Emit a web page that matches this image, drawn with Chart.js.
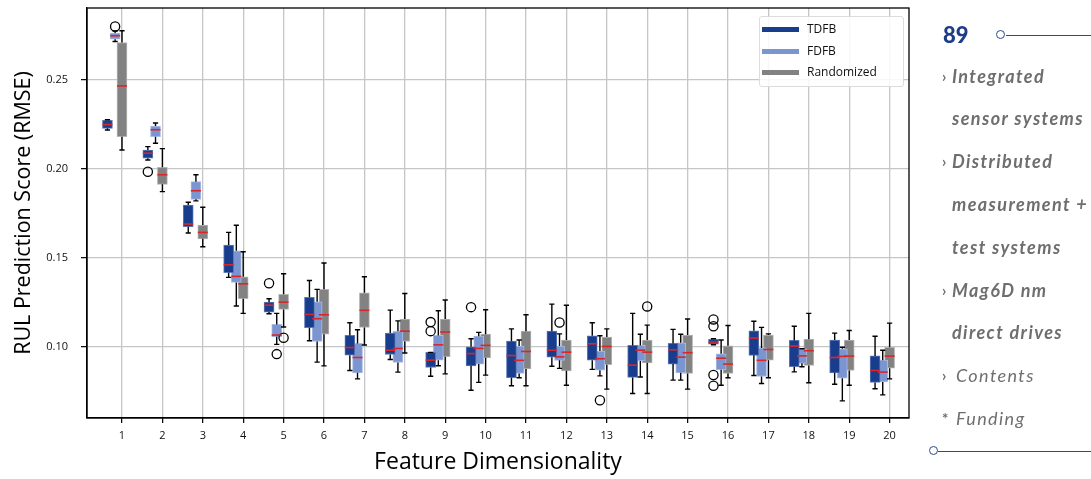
<!DOCTYPE html>
<html>
<head>
<meta charset="utf-8">
<script src="https://cdn.jsdelivr.net/npm/chart.js@4.4.1/dist/chart.umd.min.js"></script>
<style>
  html, body { margin: 0; padding: 0; background: #fff; }
  #page { position: relative; width: 1091px; height: 479px; overflow: hidden; }
  #plot { position: absolute; left: 0; top: 0; }
  #legend { position: absolute; left: 759px; top: 16px; width: 143px; height: 69px;
    border: 1px solid #dcdcdc; border-radius: 3px; background: rgba(255,255,255,0.85);
    font-family: 'Open Sans', sans-serif; font-size: 12px; color: #111; }
  #legend .row { position: absolute; left: 0; height: 20px; line-height: 20px; }
  #legend .sw { position: absolute; left: 2px; top: 8px; width: 37px; height: 5px; }
  #legend .lb { position: absolute; left: 47px; top: 0; white-space: nowrap; }
  #side { position: absolute; left: 920px; top: 0; width: 171px; height: 479px;
    font-family: Lato, sans-serif; color: #6e6e6e; }
  #pnum { position: absolute; left: 23px; top: 20px; font-size: 22px; font-weight: 900; color: #1d3c8a; line-height: 30px; }
  .hline { position: absolute; height: 0; border-top: 1.5px solid #2b4a92; }
  .dot { position: absolute; width: 7px; height: 7px; border: 1.5px solid #2b4a92; border-radius: 50%; background: #fff; }
  #menu { position: absolute; left: 0; top: 54.6px; width: 171px; }
  #menu div { position: relative; height: 42.8px; line-height: 42.8px; font-size: 18px; font-style: italic; white-space: nowrap; letter-spacing: 1.4px; }
  #menu .b { font-weight: 700; padding-left: 32px; }
  #menu .n { font-weight: 400; padding-left: 36px; }
  #menu .mk { position: absolute; left: 22px; top: 0; font-style: normal; font-weight: 700; font-size: 15px; letter-spacing: 0; }
</style>
</head>
<body>
<div id="page">
  <canvas id="plot" width="920" height="479"></canvas>
  <div id="legend"></div>
  <div id="side">
    <div id="pnum">89</div>
    <div class="hline" style="left:86px; top:34.5px; width:90px;"></div>
    <div class="dot" style="left:76px; top:30px;"></div>
    <div id="menu">
      <div class="b"><span class="mk">›</span>Integrated</div>
      <div class="b">sensor systems</div>
      <div class="b"><span class="mk">›</span>Distributed</div>
      <div class="b">measurement +</div>
      <div class="b">test systems</div>
      <div class="b"><span class="mk">›</span>Mag6D nm</div>
      <div class="b">direct drives</div>
      <div class="n"><span class="mk">›</span>Contents</div>
      <div class="n"><span class="mk">*</span>Funding</div>
    </div>
    <div class="hline" style="left:18px; top:450.5px; width:160px;"></div>
    <div class="dot" style="left:9px; top:446px;"></div>
  </div>
</div>
<script>
// feature dimensionality 1..20
var dims = [1, 2, 3, 4, 5, 6, 7, 8, 9, 10, 11, 12, 13, 14, 15, 16, 17, 18, 19, 20];
var yTicks = [0.10, 0.15, 0.20, 0.25];
var seriesNames = ['TDFB', 'FDFB', 'Randomized'];

// [whisker low, q1, median, q3, whisker high] for each dimensionality
var tdfbStats = [
  [0.2218, 0.2228, 0.2249, 0.2273, 0.2276],
  [0.2050, 0.2060, 0.2088, 0.2106, 0.2125],
  [0.1640, 0.1675, 0.1690, 0.1797, 0.1812],
  [0.1390, 0.1416, 0.1461, 0.1572, 0.1643],
  [0.1186, 0.1195, 0.1234, 0.1251, 0.1270],
  [0.1034, 0.1107, 0.1182, 0.1278, 0.1373],
  [0.0867, 0.0953, 0.0996, 0.1064, 0.1135],
  [0.0929, 0.0957, 0.0981, 0.1077, 0.1206],
  [0.0835, 0.0884, 0.0925, 0.0969, 0.0969],
  [0.0756, 0.0893, 0.0962, 0.1000, 0.1045],
  [0.0781, 0.0826, 0.0951, 0.1032, 0.1101],
  [0.0891, 0.0942, 0.0981, 0.1088, 0.1240],
  [0.0873, 0.0925, 0.1017, 0.1062, 0.1135],
  [0.0738, 0.0828, 0.0897, 0.1008, 0.1188],
  [0.0813, 0.0903, 0.0983, 0.1019, 0.1098],
  [0.1012, 0.1015, 0.1027, 0.1042, 0.1045],
  [0.0839, 0.0952, 0.1049, 0.1090, 0.1144],
  [0.0859, 0.0888, 0.1004, 0.1036, 0.1116],
  [0.0790, 0.0854, 0.0940, 0.1038, 0.1077],
  [0.0764, 0.0800, 0.0867, 0.0949, 0.1059]
];
var fdfbStats = [
  [0.2716, 0.2729, 0.2748, 0.2763, 0.2775],
  [0.2144, 0.2181, 0.2220, 0.2241, 0.2258],
  [0.1820, 0.1829, 0.1877, 0.1928, 0.1967],
  [0.1229, 0.1362, 0.1396, 0.1540, 0.1683],
  [0.1014, 0.1056, 0.1066, 0.1126, 0.1188],
  [0.0914, 0.1030, 0.1158, 0.1253, 0.1323],
  [0.0820, 0.0854, 0.0940, 0.1019, 0.1096],
  [0.0858, 0.0912, 0.0991, 0.1087, 0.1146],
  [0.0894, 0.0925, 0.1011, 0.1064, 0.1203],
  [0.0800, 0.0903, 0.0991, 0.1060, 0.1081],
  [0.0826, 0.0850, 0.0924, 0.1004, 0.1038],
  [0.0879, 0.0924, 0.0944, 0.1004, 0.1073],
  [0.0837, 0.0869, 0.0933, 0.0976, 0.1062],
  [0.0830, 0.0921, 0.0981, 0.1008, 0.1071],
  [0.0813, 0.0854, 0.0942, 0.1023, 0.1071],
  [0.0784, 0.0871, 0.0936, 0.0961, 0.1038],
  [0.0794, 0.0833, 0.0924, 0.0994, 0.1109],
  [0.0888, 0.0907, 0.0949, 0.0989, 0.0989],
  [0.0696, 0.0824, 0.0946, 0.0989, 0.0998],
  [0.0730, 0.0803, 0.0858, 0.0925, 0.0981]
];
var randStats = [
  [0.2106, 0.2181, 0.2466, 0.2710, 0.2776],
  [0.1872, 0.1913, 0.1967, 0.2009, 0.2114],
  [0.1562, 0.1607, 0.1643, 0.1684, 0.1784],
  [0.1188, 0.1270, 0.1354, 0.1394, 0.1534],
  [0.1111, 0.1210, 0.1251, 0.1295, 0.1411],
  [0.0893, 0.1071, 0.1180, 0.1323, 0.1471],
  [0.1010, 0.1109, 0.1205, 0.1304, 0.1394],
  [0.0965, 0.1030, 0.1088, 0.1156, 0.1300],
  [0.0848, 0.0944, 0.1083, 0.1156, 0.1263],
  [0.0841, 0.0938, 0.1008, 0.1071, 0.1208],
  [0.0781, 0.0876, 0.0974, 0.1088, 0.1180],
  [0.0784, 0.0865, 0.0970, 0.1038, 0.1234],
  [0.0762, 0.0899, 0.1002, 0.1055, 0.1101],
  [0.0738, 0.0910, 0.0970, 0.1038, 0.1122],
  [0.0762, 0.0850, 0.0967, 0.1066, 0.1156],
  [0.0826, 0.0850, 0.0903, 0.1006, 0.1120],
  [0.0826, 0.0925, 0.0985, 0.1066, 0.1073],
  [0.0798, 0.0895, 0.0978, 0.1043, 0.1188],
  [0.0784, 0.0867, 0.0948, 0.1038, 0.1092],
  [0.0820, 0.0880, 0.0948, 0.0997, 0.1133]
];

// outliers: [dimensionality, value]
var tdfbOut = [[2, 0.1984], [5, 0.1357], [9, 0.1139], [9, 0.1088], [10, 0.1223],
  [16, 0.1154], [16, 0.1116], [16, 0.0842], [16, 0.0781]];
var fdfbOut = [[1, 0.2800], [5, 0.0959], [12, 0.1137], [13, 0.0700]];
var randOut = [[5, 0.1051], [14, 0.1227]];

var colors = ['#183d8c', '#7b95d1', '#828282'];
var edges = ['#5d78b8', '#aabbe4', '#b4b4b4'];
var shift = [-0.36, -0.17, 0];   // box offset from the tick, in x units

var allStats = [tdfbStats, fdfbStats, randStats];
var allOut = [tdfbOut, fdfbOut, randOut];

var outlierSet = {
  type: 'scatter',
  label: 'outliers',
  data: [],
  pointStyle: 'circle',
  pointRadius: 4.6,
  pointBorderWidth: 1.3,
  pointBorderColor: '#000',
  pointBackgroundColor: 'rgba(0,0,0,0)'
};
allOut.forEach(function(list, k) {
  list.forEach(function(o) { outlierSet.data.push({x: o[0] + shift[k], y: o[1]}); });
});

var datasets = [outlierSet];
allStats.forEach(function(stats, k) {
  datasets.push({
    type: 'bar',
    label: seriesNames[k],
    stats: stats,
    data: stats.map(function(s, i) { return {x: dims[i] + shift[k], y: [s[1], s[3]]}; }),
    backgroundColor: colors[k],
    borderColor: edges[k],
    borderWidth: 1,
    borderSkipped: false,
    barThickness: 10,
    grouped: false
  });
});

// whiskers, caps and medians, using the bar elements and the y scale
var boxParts = {
  id: 'boxParts',
  afterDatasetsDraw: function(chart) {
    var ctx = chart.ctx, y = chart.scales.y;
    ctx.save();
    chart.data.datasets.forEach(function(ds, di) {
      if (!ds.stats) return;
      var meta = chart.getDatasetMeta(di);
      meta.data.forEach(function(el, i) {
        var s = ds.stats[i];
        var cx = el.x, w = el.width;
        var pLo = y.getPixelForValue(s[0]), pQ1 = y.getPixelForValue(s[1]);
        var pMed = y.getPixelForValue(s[2]);
        var pQ3 = y.getPixelForValue(s[3]), pHi = y.getPixelForValue(s[4]);
        ctx.strokeStyle = '#000';
        ctx.lineWidth = 1.4;
        ctx.beginPath();
        ctx.moveTo(cx, pQ1); ctx.lineTo(cx, pLo);
        ctx.moveTo(cx, pQ3); ctx.lineTo(cx, pHi);
        ctx.moveTo(cx - w * 0.26, pLo); ctx.lineTo(cx + w * 0.26, pLo);
        ctx.moveTo(cx - w * 0.26, pHi); ctx.lineTo(cx + w * 0.26, pHi);
        ctx.stroke();
        ctx.strokeStyle = '#d9262b';
        ctx.lineWidth = 1.6;
        ctx.beginPath();
        ctx.moveTo(cx - w / 2, pMed); ctx.lineTo(cx + w / 2, pMed);
        ctx.stroke();
      });
    });
    ctx.restore();
  }
};

var frame = {
  id: 'frame',
  afterDraw: function(chart) {
    var a = chart.chartArea, ctx = chart.ctx;
    ctx.save();
    ctx.strokeStyle = '#000';
    ctx.lineWidth = 1.3;
    ctx.strokeRect(a.left, a.top, a.right - a.left, a.bottom - a.top);
    ctx.restore();
  }
};

Chart.defaults.font.family = "'Open Sans', sans-serif";
Chart.defaults.color = '#111';

var plot = new Chart(document.getElementById('plot'), {
  type: 'bar',
  data: { datasets: datasets },
  options: {
    responsive: false,
    animation: false,
    layout: { autoPadding: false, padding: { top: 8, right: 11, left: 0, bottom: 0 } },
    plugins: { legend: { display: false }, tooltip: { enabled: false } },
    scales: {
      x: {
        type: 'linear',
        offset: false,
        min: 0.134,
        max: 20.48,
        afterBuildTicks: function(scale) { scale.ticks = dims.map(function(v) { return {value: v}; }); },
        afterFit: function(scale) { scale.height = 61; scale.paddingLeft = 0; scale.paddingRight = 0; },
        ticks: { font: { size: 11 }, padding: 6, maxRotation: 0, autoSkip: false },
        grid: { offset: false, color: '#c6c6c6', lineWidth: 1.3, tickLength: 5, tickColor: '#000', tickWidth: 1.2 },
        border: { color: '#000', width: 1.3 },
        title: { display: true, text: 'Feature Dimensionality', font: { size: 23 }, color: '#000', padding: { bottom: 3 } }
      },
      y: {
        min: 0.060,
        max: 0.2904,
        beginAtZero: false,
        afterBuildTicks: function(scale) { scale.ticks = yTicks.map(function(v) { return {value: v}; }); },
        afterFit: function(scale) { scale.width = 87; scale.paddingTop = 0; scale.paddingBottom = 0; },
        ticks: { font: { size: 11 }, padding: 13, callback: function(v) { return v.toFixed(2); } },
        grid: { color: '#c6c6c6', lineWidth: 1.3, tickLength: 6, tickColor: '#000', tickWidth: 1.2 },
        border: { color: '#000', width: 1.3 },
        title: { display: true, text: 'RUL Prediction Score (RMSE)', font: { size: 21.5 }, color: '#000', padding: { top: 11 } }
      }
    }
  },
  plugins: [boxParts, frame]
});

// legend inside the plot, built from the series names and colours
var leg = document.getElementById('legend');
seriesNames.forEach(function(name, k) {
  var row = document.createElement('div');
  row.className = 'row';
  row.style.top = (2 + k * 21.7) + 'px';
  row.innerHTML = '<span class="sw" style="background:' + colors[k] + '"></span><span class="lb">' + name + '</span>';
  leg.appendChild(row);
});
</script>
</body>
</html>
